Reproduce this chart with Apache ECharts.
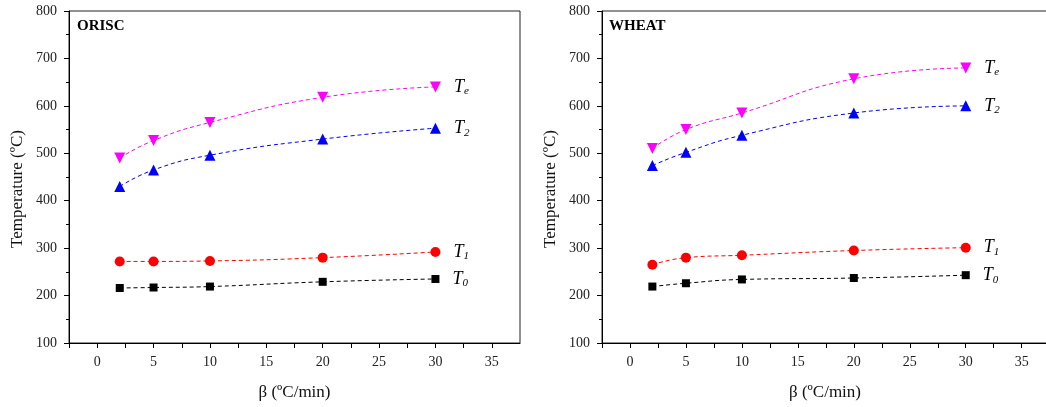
<!DOCTYPE html>
<html>
<head>
<meta charset="utf-8">
<script src="https://cdn.jsdelivr.net/npm/echarts@6/dist/echarts.min.js"></script>
<style>
  html, body { margin: 0; padding: 0; background: #fff; }
  #chart { width: 1046px; height: 407px; }
</style>
</head>
<body>
<div id="chart"></div>
<script>
// heating rates (ºC/min)
const beta = [2, 5, 10, 20, 30]
const xTicks = [0, 5, 10, 15, 20, 25, 30, 35]

// ORISC
const orTe = [490, 527, 565, 618, 640]
const orT2 = [430, 465, 496, 530, 553]
const orT1 = [272, 272, 273, 280, 292]
const orT0 = [216, 217, 219, 229, 235]

// WHEAT
const whTe = [510, 550, 585, 657, 680]
const whT2 = [474, 502, 538, 585, 600]
const whT1 = [265, 280, 285, 295, 301]
const whT0 = [219, 226, 234, 237, 243]

const serif = '"Liberation Serif", "DejaVu Serif", serif'
const downTri = 'path://M0,0 L10,0 L5,9 Z'

function pts (ys, sub) {
  return ys.map((y, i) => {
    const item = { value: [beta[i], y] }
    if (i === ys.length - 1) {
      item.label = {
        show: true,
        position: 'right',
        distance: 13,
        formatter: '{t|T}{s|' + sub + '}',
        rich: {
          t: { fontFamily: serif, fontStyle: 'italic', fontSize: 18, color: '#000' },
          s: { fontFamily: serif, fontStyle: 'italic', fontSize: 11, color: '#000', padding: [9, 0, 0, 0] }
        }
      }
    }
    return item
  })
}

function line (idx, ys, sub, color, symbol, size) {
  return {
    type: 'line',
    xAxisIndex: idx,
    yAxisIndex: idx,
    smooth: true,
    symbol: symbol,
    symbolSize: size,
    itemStyle: { color: color },
    lineStyle: { color: color, width: 1, type: [4, 3] },
    data: pts(ys, sub)
  }
}

function xAxis (idx, max) {
  return {
    gridIndex: idx,
    type: 'value',
    min: -2.5,
    max: max,
    interval: 2.5,
    name: 'β (ºC/min)',
    nameLocation: 'middle',
    nameGap: 41,
    nameTextStyle: { fontFamily: serif, fontSize: 17, color: '#111' },
    axisLine: { show: true, onZero: false, lineStyle: { color: '#000', width: 1 } },
    axisTick: { show: true, length: 5, lineStyle: { color: '#000' } },
    axisLabel: {
      margin: 12,
      fontFamily: serif,
      fontSize: 14,
      color: '#222',
      showMaxLabel: false,
      formatter: v => (xTicks.indexOf(v) >= 0 ? String(v) : '')
    },
    splitLine: { show: false }
  }
}

function yAxis (idx) {
  return {
    gridIndex: idx,
    type: 'value',
    min: 100,
    max: 800,
    interval: 100,
    name: 'Temperature (ºC)',
    nameLocation: 'middle',
    nameGap: 43,
    nameTextStyle: { fontFamily: serif, fontSize: 17, color: '#111', padding: [0, 24, 0, 0] },
    axisLine: { show: true, onZero: false, lineStyle: { color: '#000', width: 1 } },
    axisTick: { show: true, length: 5, lineStyle: { color: '#000' } },
    minorTick: { show: true, splitNumber: 2, length: 3, lineStyle: { color: '#000' } },
    axisLabel: { margin: 12, fontFamily: serif, fontSize: 14, color: '#222' },
    splitLine: { show: false }
  }
}

const chart = echarts.init(document.getElementById('chart'))
chart.setOption({
  backgroundColor: '#fff',
  animation: false,
  title: [
    { text: 'ORISC', left: 77, top: 19, padding: 0, textStyle: { fontFamily: serif, fontSize: 15, fontWeight: 'bold', color: '#000' } },
    { text: 'WHEAT', left: 609, top: 19, padding: 0, textStyle: { fontFamily: serif, fontSize: 15, fontWeight: 'bold', color: '#000' } }
  ],
  grid: [
    { left: 69, top: 11, width: 451, height: 332, show: true, borderColor: '#222', borderWidth: 1, outerBoundsMode: 'none' },
    { left: 602, top: 11, width: 446, height: 332, show: true, borderColor: '#222', borderWidth: 1, outerBoundsMode: 'none' }
  ],
  xAxis: [xAxis(0, 37.5), xAxis(1, 37.35)],
  yAxis: [yAxis(0), yAxis(1)],
  series: [
    line(0, orTe, 'e', '#ff00ff', downTri, 11),
    line(0, orT2, '2', '#0000ff', 'triangle', 11),
    line(0, orT1, '1', '#ff0000', 'circle', 10),
    line(0, orT0, '0', '#000000', 'rect', 8),
    line(1, whTe, 'e', '#ff00ff', downTri, 11),
    line(1, whT2, '2', '#0000ff', 'triangle', 11),
    line(1, whT1, '1', '#ff0000', 'circle', 10),
    line(1, whT0, '0', '#000000', 'rect', 8)
  ]
})
</script>
</body>
</html>
